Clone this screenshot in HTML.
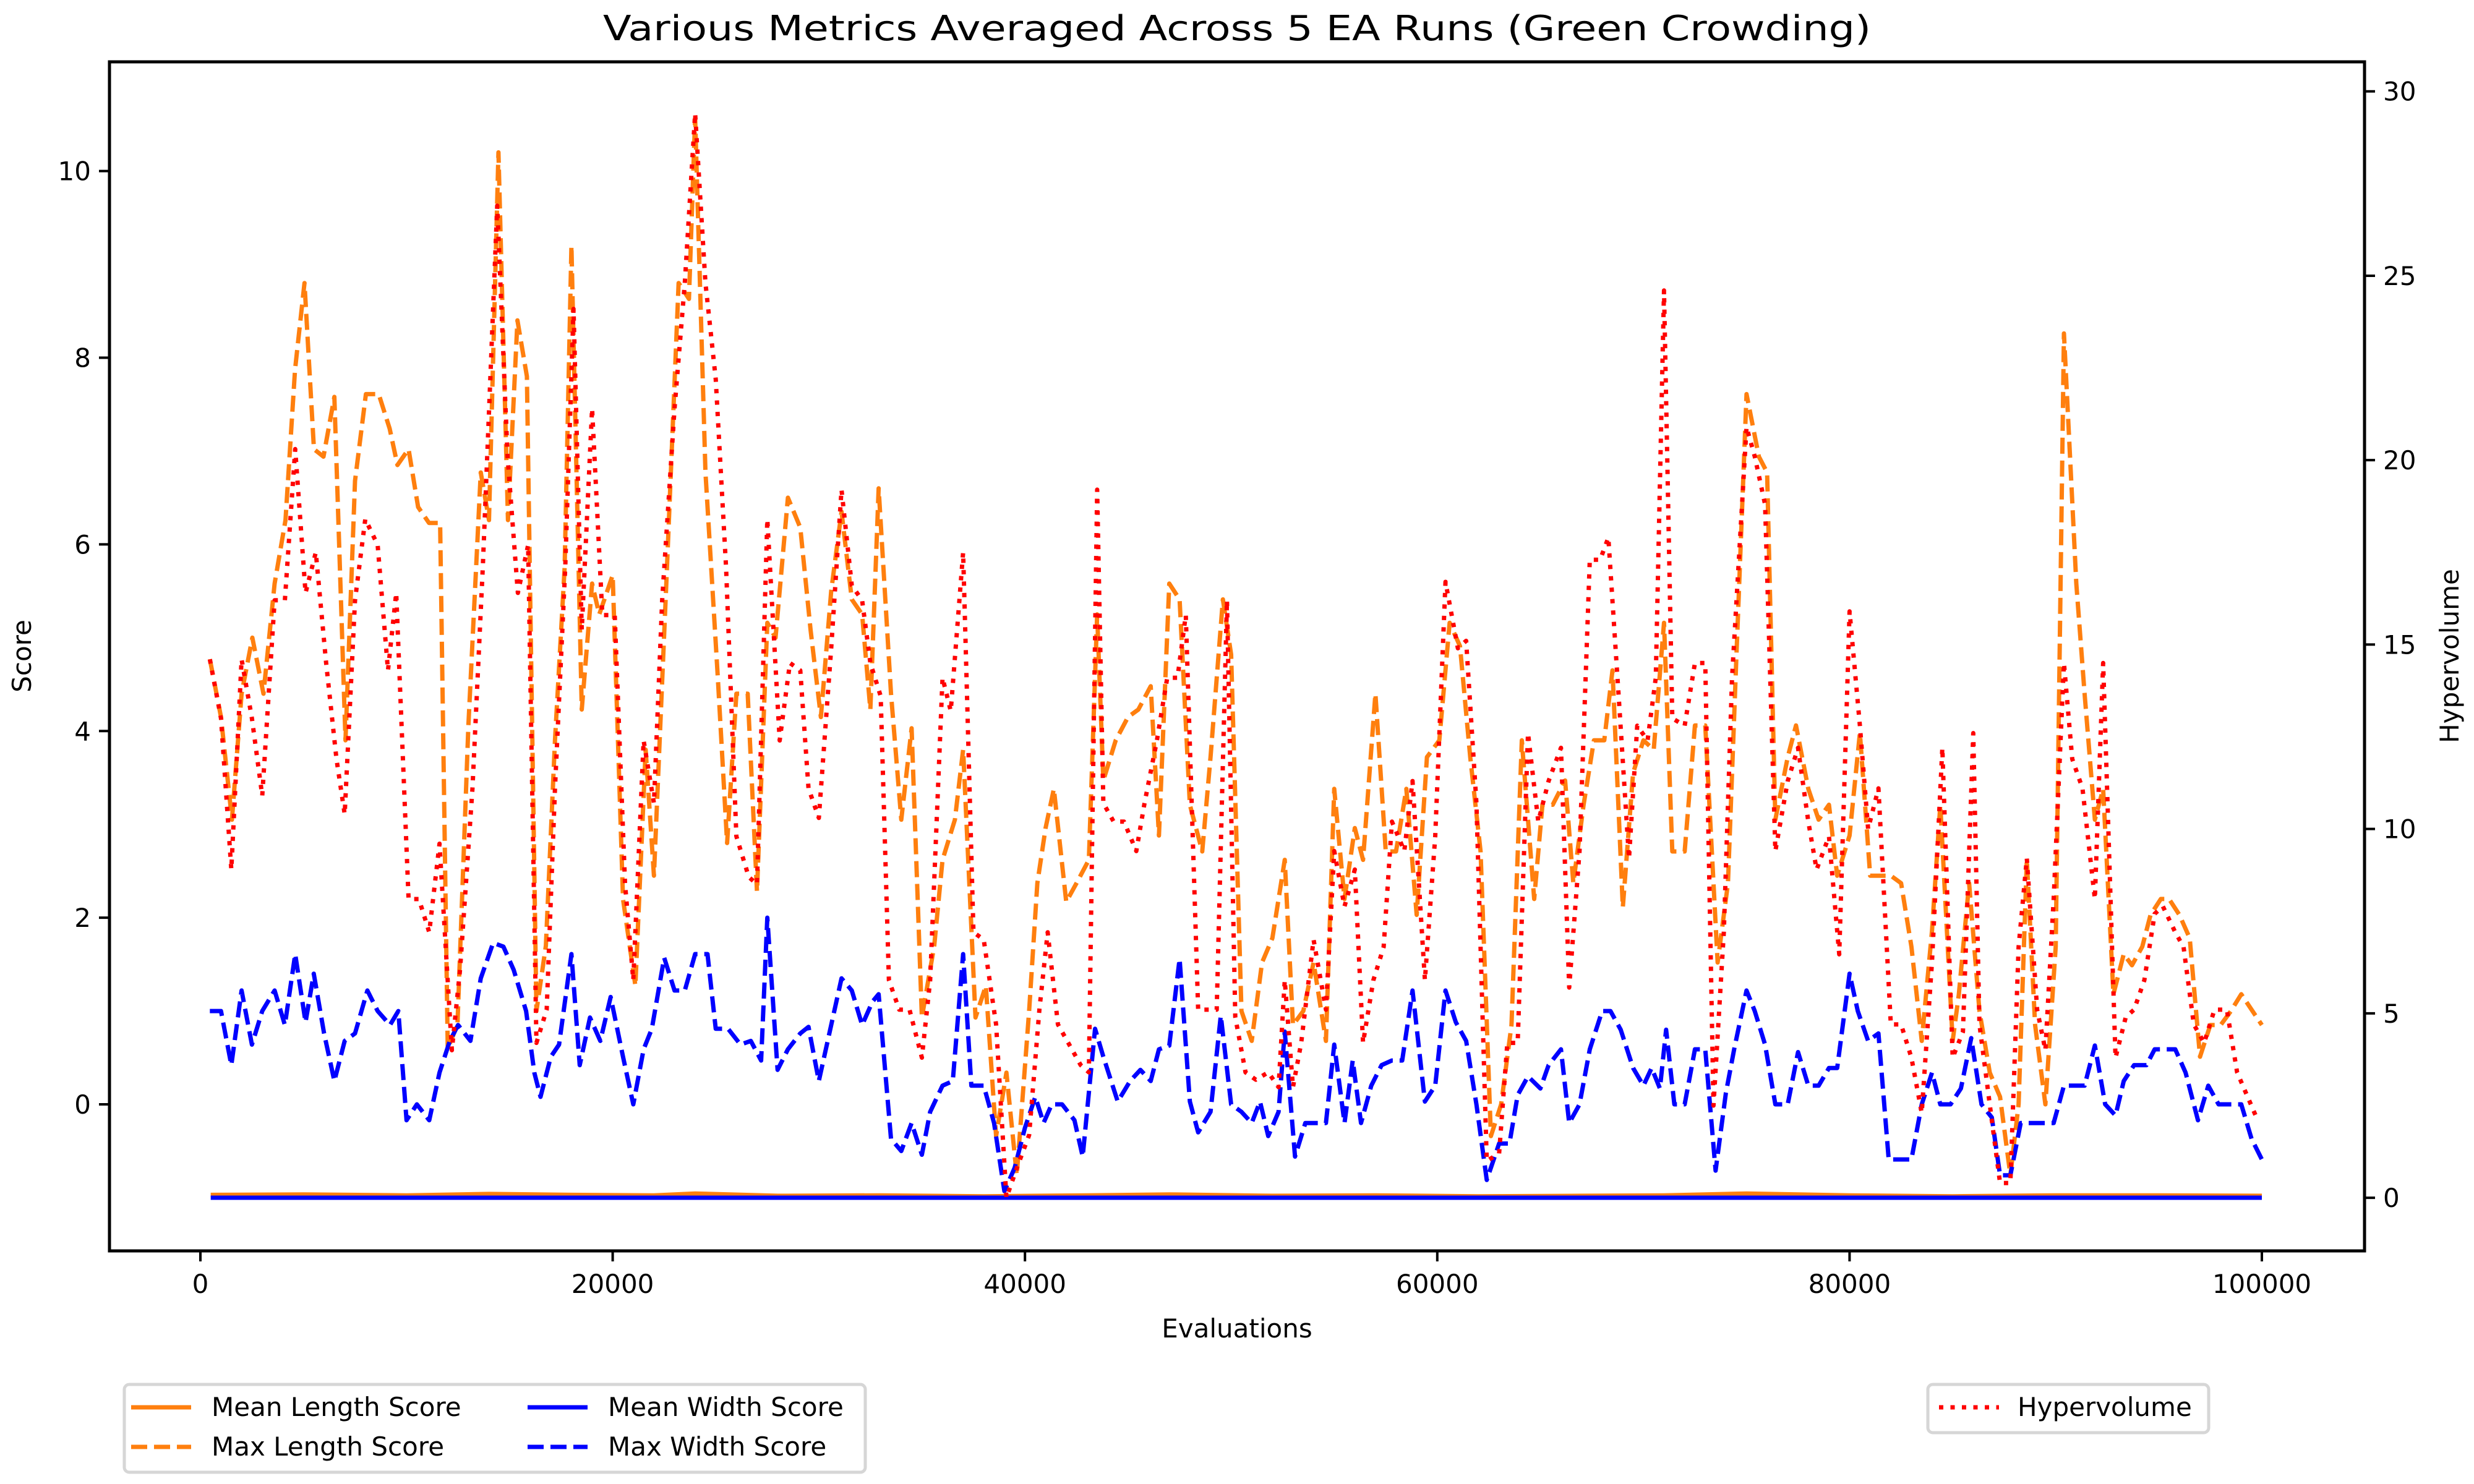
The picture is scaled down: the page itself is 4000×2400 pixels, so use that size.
<!DOCTYPE html>
<html><head><meta charset="utf-8"><style>
html,body{margin:0;padding:0;background:#fff}
svg{display:block}
text{font-family:"DejaVu Sans","Liberation Sans",sans-serif;fill:#000}
</style></head><body>
<svg id="chart" width="4000" height="2400" viewBox="0 0 4000 2400" xmlns="http://www.w3.org/2000/svg">
<rect width="4000" height="2400" fill="#fff"/>
<text x="2000" y="65" text-anchor="middle" font-size="56" textLength="2050" lengthAdjust="spacingAndGlyphs">Various Metrics Averaged Across 5 EA Runs (Green Crowding)</text>
<g id="plot"></g>
<g id="axes"></g>
<text x="2000" y="2163" text-anchor="middle" font-size="42">Evaluations</text>
<text transform="translate(50,1061) rotate(-90)" text-anchor="middle" font-size="42">Score</text>
<text transform="translate(3975,1061) rotate(-90)" text-anchor="middle" font-size="42">Hypervolume</text>
<g>
<rect x="201" y="2239" width="1198" height="142" rx="8" fill="#fff" stroke="#d6d6d6" stroke-width="5"/>
<g><line x1="212" y1="2276" x2="309" y2="2276" stroke="#ff7f0e" stroke-width="7"/><text x="342" y="2290" font-size="42">Mean Length Score</text></g>
<g><line x1="212" y1="2340" x2="309" y2="2340" stroke="#ff7f0e" stroke-width="7" stroke-dasharray="26,11"/><text x="342" y="2354" font-size="42">Max Length Score</text></g>
<g><line x1="853" y1="2276" x2="950" y2="2276" stroke="#0000ff" stroke-width="7"/><text x="983" y="2290" font-size="42">Mean Width Score</text></g>
<g><line x1="853" y1="2340" x2="950" y2="2340" stroke="#0000ff" stroke-width="7" stroke-dasharray="26,11"/><text x="983" y="2354" font-size="42">Max Width Score</text></g>
</g>
<g>
<rect x="3117" y="2239" width="454" height="78" rx="8" fill="#fff" stroke="#d6d6d6" stroke-width="5"/>
<g><line x1="3135" y1="2276" x2="3232" y2="2276" stroke="#ff0000" stroke-width="7" stroke-dasharray="7,11.5"/><text x="3262" y="2290" font-size="42">Hypervolume</text></g>
</g>
</svg>
<script>
const xTicks=[0,20000,40000,60000,80000,100000];
const xTickLabels=["0","20000","40000","60000","80000","100000"];
const yTicks=[0,2,4,6,8,10];
const yTickLabels=["0","2","4","6","8","10"];
const y2Ticks=[0,5,10,15,20,25,30];
const y2TickLabels=["0","5","10","15","20","25","30"];

const meanLenX=[500,5000,10000,14000,18000,22000,24000,28000,33000,38000,43000,47000,52000,57000,62000,67000,71000,75000,80000,85000,90000,95000,100000];
const meanLenY=[-0.97,-0.965,-0.975,-0.96,-0.97,-0.975,-0.955,-0.98,-0.975,-0.985,-0.975,-0.965,-0.98,-0.975,-0.985,-0.98,-0.975,-0.955,-0.975,-0.985,-0.975,-0.975,-0.98];
const meanWidX=[500,20000,40000,60000,80000,100000];
const meanWidY=[-1.0,-1.0,-1.0,-1.0,-1.0,-1.0];

const maxLenX=[460,1000,1530,2000,2520,3060,3600,4130,4590,5050,5510,5970,6500,7040,7500,8030,8650,9180,9560,10100,10560,11090,11630,12000,12470,13000,13600,14000,14460,14920,15380,15840,16300,16760,17200,17670,18000,18500,19000,19350,20000,20500,21100,21600,22000,22600,23200,23700,24000,24500,25100,25550,26000,26550,27000,27500,27900,28500,29100,29600,30100,30600,31100,31600,32100,32500,32900,33500,34000,34500,35000,35600,36000,36600,37000,37600,38100,38600,39100,39600,40200,40600,41000,41400,42000,42500,43100,43500,43800,44400,45000,45500,46100,46500,47000,47500,48000,48600,49000,49600,50000,50500,51000,51500,52000,52600,53000,53500,54000,54600,55000,55500,56000,56400,57000,57500,58000,58500,59000,59500,60100,60600,61100,61600,62100,62600,63100,63600,64100,64700,65100,65600,66200,66600,67100,67600,68100,68500,69000,69500,70000,70500,71000,71400,72000,72500,73000,73600,74100,74500,75000,75600,76000,76400,77000,77400,78000,78500,79000,79400,80000,80500,81000,81400,82000,82500,83000,83500,84000,84400,85000,85300,85800,86300,86800,87300,87800,88200,88600,89000,89500,90000,90400,91000,91400,91900,92300,92800,93300,93700,94200,94600,95100,95500,96000,96500,97000,97500,98000,98500,99000,100000];
const maxLenY=[4.77,4.15,3.05,4.4,5.0,4.4,5.58,6.26,7.87,8.8,7.02,6.94,7.58,3.9,6.68,7.61,7.61,7.24,6.85,7.02,6.4,6.23,6.23,0.6,0.85,4.06,6.77,6.26,10.2,6.26,8.4,7.8,1.0,1.7,3.9,5.75,9.2,4.23,5.58,5.25,5.67,2.2,1.27,3.8,2.45,5.58,8.8,8.63,10.57,6.77,4.57,2.8,4.4,4.4,2.28,5.16,5.0,6.5,6.18,5.08,4.15,5.5,6.35,5.41,5.25,4.23,6.6,4.4,3.05,4.03,0.93,1.7,2.62,3.05,3.8,0.93,1.27,-0.34,0.34,-0.76,1.0,2.37,2.96,3.38,2.17,2.37,2.62,5.25,3.47,3.9,4.15,4.23,4.48,2.88,5.58,5.41,3.21,2.71,3.72,5.41,4.82,1.0,0.68,1.52,1.78,2.62,0.85,1.0,1.52,0.68,3.38,2.2,2.96,2.62,4.4,2.71,2.71,3.38,2.03,3.72,3.9,5.16,4.91,3.72,2.71,-0.34,0.0,0.85,3.9,2.2,3.21,3.21,3.47,2.37,3.21,3.9,3.9,4.65,2.11,3.55,3.9,3.8,5.16,2.71,2.71,4.06,4.06,1.52,2.37,4.74,7.61,6.94,6.77,3.05,3.72,4.06,3.38,3.05,3.21,2.45,2.88,3.98,2.45,2.45,2.45,2.37,1.69,0.68,1.86,3.21,0.68,1.18,2.37,1.0,0.34,0.08,-0.76,0.0,2.62,0.85,0.0,1.69,8.26,5.58,4.4,3.05,3.38,1.18,1.61,1.49,1.69,2.03,2.2,2.2,2.03,1.78,0.51,0.85,0.85,1.0,1.18,0.85];

const maxWidX=[460,1000,1500,2000,2500,3000,3600,4100,4600,5100,5500,6000,6500,7000,7500,8100,8600,9200,9600,10000,10500,11100,11600,12100,12500,13100,13600,14200,14700,15200,15800,16200,16500,17000,17400,18000,18400,18900,19400,19900,20500,21000,21500,21900,22500,23000,23500,24000,24600,25000,25600,26200,26700,27200,27500,28000,28500,29100,29500,30000,30600,31100,31600,32100,32600,32900,33500,34000,34500,35000,35400,36000,36500,37000,37400,38000,38500,39000,39500,40000,40500,40900,41300,41800,42400,42800,43400,43800,44500,45100,45600,46100,46500,47000,47500,48000,48400,49000,49500,50000,50500,51000,51400,51800,52300,52600,53100,53600,54100,54600,55000,55500,55900,56300,56800,57300,57800,58300,58800,59400,59900,60400,60900,61400,61900,62400,63000,63500,63900,64400,65000,65400,66000,66400,66900,67400,68000,68400,68900,69500,70000,70400,70800,71100,71500,72000,72500,73000,73500,74000,74400,75000,75400,75900,76400,77000,77500,78000,78500,79000,79400,80000,80400,80900,81400,81900,82500,83000,83500,84000,84400,84900,85400,85900,86400,86900,87300,87800,88300,88800,89300,89900,90400,90900,91400,91900,92400,92900,93300,93800,94400,94800,95300,95800,96300,96900,97400,97900,98500,99000,99500,100000];
const maxWidY=[1.0,1.0,0.42,1.22,0.64,1.0,1.22,0.85,1.61,0.88,1.4,0.76,0.25,0.68,0.76,1.22,1.0,0.85,1.0,-0.17,0.0,-0.17,0.34,0.68,0.85,0.68,1.35,1.73,1.69,1.44,1.0,0.34,0.08,0.51,0.64,1.61,0.42,0.93,0.68,1.15,0.51,0.0,0.59,0.81,1.57,1.22,1.22,1.61,1.61,0.81,0.81,0.64,0.68,0.47,2.0,0.37,0.59,0.76,0.83,0.25,0.85,1.35,1.22,0.85,1.1,1.18,-0.37,-0.5,-0.2,-0.54,-0.08,0.2,0.25,1.61,0.2,0.2,-0.2,-0.93,-0.68,-0.25,0.08,-0.2,0.0,0.0,-0.17,-0.56,0.81,0.51,0.03,0.25,0.37,0.25,0.59,0.63,1.56,0.03,-0.3,-0.08,0.95,0.0,-0.08,-0.2,0.03,-0.34,-0.08,0.78,-0.56,-0.2,-0.2,-0.2,0.64,-0.2,0.47,-0.2,0.2,0.42,0.47,0.47,1.22,0.03,0.2,1.22,0.88,0.68,0.0,-0.81,-0.42,-0.42,0.1,0.3,0.17,0.42,0.59,-0.2,0.0,0.59,1.0,1.0,0.8,0.39,0.2,0.39,0.17,0.8,0.0,0.0,0.59,0.59,-0.71,0.12,0.59,1.22,1.0,0.64,0.0,0.0,0.56,0.2,0.2,0.39,0.39,1.4,1.0,0.68,0.76,-0.59,-0.59,-0.59,0.0,0.34,0.0,0.0,0.17,0.71,0.0,-0.14,-0.76,-0.76,-0.2,-0.2,-0.2,-0.2,0.2,0.2,0.2,0.63,0.0,-0.12,0.25,0.42,0.42,0.59,0.59,0.59,0.34,-0.17,0.2,0.0,0.0,0.0,-0.37,-0.59];

const hvX=[460,1000,1500,2000,2500,3000,3600,4100,4600,5100,5600,6100,6600,7000,7500,8000,8600,9100,9500,10100,10600,11100,11600,12200,12600,13200,13700,14400,14900,15400,15900,16300,16800,17200,17700,18100,18500,19000,19500,20100,20600,21000,21500,22000,22400,23000,23500,24000,24500,25000,25500,26000,26600,27000,27500,28100,28600,29100,29500,30000,30600,31100,31600,32100,32500,33000,33400,33900,34400,35000,35400,36000,36400,37000,37500,38000,38600,39100,39600,40200,40700,41100,41600,42100,42700,43100,43500,43800,44300,44800,45400,45800,46400,46900,47400,47800,48400,48800,49300,49800,50200,50700,51200,51800,52300,52600,53000,53400,54000,54600,55000,55500,56000,56400,56900,57400,57800,58400,58800,59400,59900,60400,61000,61400,61900,62400,63000,63400,63900,64400,64900,65400,66000,66400,66900,67400,67900,68300,68800,69300,69700,70200,70600,71000,71400,72000,72500,73000,73400,73900,74300,75000,75400,75900,76400,77000,77500,78000,78400,79000,79500,80000,80500,80900,81400,82000,82500,83000,83500,84000,84500,85000,85500,86000,86300,86900,87300,87800,88200,88600,89100,89500,89900,90400,90800,91300,91900,92300,92900,93400,93800,94300,94800,95200,95800,96200,96700,97200,97700,98300,98800,99800];
const hvY=[14.6,13.0,8.9,14.6,13.0,10.9,16.2,16.2,20.3,16.4,17.5,14.5,11.9,10.4,16.2,18.4,17.7,14.3,16.4,8.1,8.1,7.2,9.6,4.0,6.2,11.1,17.1,26.9,20.1,16.4,17.7,4.2,5.1,11.1,17.1,24.1,15.4,21.4,15.8,15.8,8.5,5.9,12.4,10.7,16.2,21.4,24.8,29.4,24.8,22.2,17.1,9.8,8.7,8.5,18.4,12.4,14.5,14.3,11.1,10.3,14.9,19.2,16.6,16.2,14.5,13.6,5.9,5.1,5.1,3.8,5.9,14.1,13.2,17.5,7.2,7.0,4.7,0.0,0.8,1.7,5.1,7.2,4.7,4.2,3.6,3.4,19.2,10.7,10.2,10.2,9.4,10.7,12.4,14.1,14.1,15.8,5.1,5.1,5.1,16.2,4.9,3.4,3.2,3.4,3.0,5.9,3.0,4.2,7.0,5.1,9.4,7.9,8.9,4.2,5.9,6.8,10.2,9.4,11.3,5.9,9.8,16.7,14.9,15.1,10.7,1.0,1.2,4.2,4.2,12.6,10.2,11.3,12.2,5.7,9.4,17.3,17.3,17.9,13.6,9.2,12.8,12.4,14.1,24.6,13.0,12.8,14.5,14.5,2.5,7.2,14.1,20.9,20.1,18.8,9.4,11.3,12.2,10.2,8.9,9.8,6.6,15.9,12.8,10.0,11.1,4.7,4.7,3.8,2.3,6.4,12.2,3.8,4.5,12.6,4.7,2.1,0.4,0.4,6.8,9.2,5.1,4.0,8.1,14.5,11.9,11.1,8.1,14.5,3.8,4.9,5.1,5.9,7.7,7.9,7.2,6.8,4.7,4.2,5.1,5.1,3.4,2.1];

const L=177,R=3823,T=100,B=2023;
const xMin=-4410,xMax=104980, yMin=-1.57,yMax=11.17, y2Min=-1.44,y2Max=30.8;
function sx(v){return L+(v-xMin)/(xMax-xMin)*(R-L);}
function sy(v){return B-(v-yMin)/(yMax-yMin)*(B-T);}
function sy2(v){return B-(v-y2Min)/(y2Max-y2Min)*(B-T);}
const NS="http://www.w3.org/2000/svg";
const plot=document.getElementById('plot'), axes=document.getElementById('axes');
function mk(tag,attrs,parent){const e=document.createElementNS(NS,tag);for(const k in attrs)e.setAttribute(k,attrs[k]);parent.appendChild(e);return e;}
function pts(xs,ys,f){return xs.map((x,i)=>sx(x).toFixed(1)+','+f(ys[i]).toFixed(1)).join(' ');}
let p;
p=mk('polyline',{points:pts(meanLenX,meanLenY,sy),fill:'none',stroke:'#ff7f0e','stroke-width':7,'stroke-linejoin':'round'},plot);


p=mk('polyline',{points:pts(maxLenX,maxLenY,sy),fill:'none',stroke:'#ff7f0e','stroke-width':7,'stroke-dasharray':'26,11','stroke-linejoin':'round'},plot);


p=mk('polyline',{points:pts(meanWidX,meanWidY,sy),fill:'none',stroke:'#0000ff','stroke-width':7},plot);


p=mk('polyline',{points:pts(maxWidX,maxWidY,sy),fill:'none',stroke:'#0000ff','stroke-width':7,'stroke-dasharray':'26,11','stroke-linejoin':'round'},plot);


p=mk('polyline',{points:pts(hvX,hvY,sy2),fill:'none',stroke:'#ff0000','stroke-width':7,'stroke-dasharray':'7,11.5','stroke-linejoin':'round'},plot);



p=mk('rect',{x:L,y:T,width:R-L,height:B-T,fill:'none',stroke:'#000','stroke-width':5},axes);


xTicks.forEach((v,i)=>{const x=sx(v);
 mk('line',{x1:x,y1:B,x2:x,y2:B+17,stroke:'#000','stroke-width':4},axes);
 const t=mk('text',{x:x,y:B+68,'text-anchor':'middle','font-size':42},axes);t.textContent=xTickLabels[i];
 
 });
yTicks.forEach((v,i)=>{const y=sy(v);
 mk('line',{x1:L,y1:y,x2:L-17,y2:y,stroke:'#000','stroke-width':4},axes);
 const t=mk('text',{x:L-30,y:y+15,'text-anchor':'end','font-size':42},axes);t.textContent=yTickLabels[i];
 
 });
y2Ticks.forEach((v,i)=>{const y=sy2(v);
 mk('line',{x1:R,y1:y,x2:R+17,y2:y,stroke:'#000','stroke-width':4},axes);
 const t=mk('text',{x:R+30,y:y+15,'text-anchor':'start','font-size':42},axes);t.textContent=y2TickLabels[i];
 
 });
</script>
</body></html>
